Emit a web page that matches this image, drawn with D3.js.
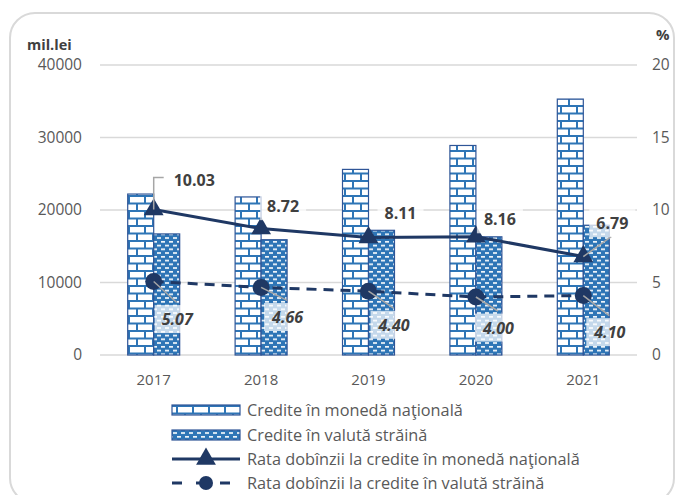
<!DOCTYPE html>
<html>
<head>
<meta charset="utf-8">
<script src="https://cdn.jsdelivr.net/npm/d3@7"></script>
<style>
  body { margin: 0; background: #fff; }
  svg { font-family: "Open Sans", sans-serif; }
</style>
</head>
<body>
<script>
// chart data
const years = ['2017', '2018', '2019', '2020', '2021'];
const creditNational = [22200, 21800, 25600, 28900, 35300];
const creditForeign = [16700, 15900, 17200, 16300, 17900];
const rateNational = [10.03, 8.72, 8.11, 8.16, 6.79];
const rateForeign = [5.07, 4.66, 4.40, 4.00, 4.10];
const leftTicks = [0, 10000, 20000, 30000, 40000];
const rightTicks = [0, 5, 10, 15, 20];
const legendLabels = [
  'Credite în monedă naţională',
  'Credite în valută străină',
  'Rata dobînzii la credite în monedă naţională',
  'Rata dobînzii la credite în valută străină'
];

// label offsets (layout only)
const natLabelOff = [[20, -29], [6, -22], [16, -24], [8, -17], [13, -33]];
const forLabelOff = [[8, 38], [11, 30], [10, 34], [7, 31], [11, 37]];

const width = 678, height = 495;
const blue = '#2e75b6', navy = '#1f3864', grid = '#d9d9d9', txt = '#595959';

const svg = d3.select('body').append('svg')
  .attr('width', width)
  .attr('height', height);

// patterns
const defs = svg.append('defs');
const brick = defs.append('pattern')
  .attr('id', 'brick')
  .attr('patternUnits', 'userSpaceOnUse')
  .attr('width', 16).attr('height', 15);
brick.append('rect').attr('width', 16).attr('height', 15).attr('fill', '#fff');
brick.append('path')
  .attr('d', 'M0,1 H16 M0,8.5 H16 M1,1 V8.5 M9,8.5 V15')
  .attr('stroke', blue).attr('stroke-width', 2).attr('fill', 'none');

const dots = defs.append('pattern')
  .attr('id', 'dots')
  .attr('patternUnits', 'userSpaceOnUse')
  .attr('width', 8).attr('height', 7.5);
dots.append('rect').attr('width', 8).attr('height', 7.5).attr('fill', blue);
dots.append('rect').attr('x', 1).attr('y', 1).attr('width', 4).attr('height', 1.6).attr('fill', '#fff');
dots.append('rect').attr('x', 5).attr('y', 4.75).attr('width', 4).attr('height', 1.6).attr('fill', '#fff');
dots.append('rect').attr('x', -3).attr('y', 4.75).attr('width', 4).attr('height', 1.6).attr('fill', '#fff');

// outer border
svg.append('rect')
  .attr('x', 10).attr('y', 13)
  .attr('width', 664).attr('height', 490)
  .attr('rx', 25)
  .attr('fill', 'none')
  .attr('stroke', grid).attr('stroke-width', 2);

// scales
const x = d3.scaleBand().domain(years).range([100, 637])
  .paddingInner(0.516).paddingOuter(0.258);
const xs = d3.scaleBand().domain([0, 1]).range([0, x.bandwidth()]);
const yL = d3.scaleLinear().domain([0, 40000]).range([355, 65]);
const yR = d3.scaleLinear().domain([0, 20]).range([355, 65]);
const cx = d => x(d) + x.bandwidth() / 2;

// gridlines
svg.append('g').selectAll('line')
  .data(leftTicks)
  .enter().append('line')
  .attr('x1', 100).attr('x2', 637)
  .attr('y1', d => yL(d)).attr('y2', d => yL(d))
  .attr('stroke', grid).attr('stroke-width', 1.5);

// axis labels
svg.append('g').selectAll('text')
  .data(leftTicks)
  .enter().append('text')
  .attr('x', 82).attr('y', d => yL(d))
  .attr('dy', '0.35em')
  .attr('text-anchor', 'end')
  .attr('font-size', 15.5).attr('fill', txt)
  .text(d => d);

svg.append('g').selectAll('text')
  .data(rightTicks)
  .enter().append('text')
  .attr('x', 652).attr('y', d => yR(d))
  .attr('dy', '0.35em')
  .attr('font-size', 15.5).attr('fill', txt)
  .text(d => d);

svg.append('g').selectAll('text')
  .data(years)
  .enter().append('text')
  .attr('x', d => cx(d)).attr('y', 380)
  .attr('dy', '0.35em')
  .attr('text-anchor', 'middle')
  .attr('font-size', 15).attr('fill', txt)
  .text(d => d);

svg.append('text')
  .attr('x', 27).attr('y', 46).attr('dy', '0.3em')
  .attr('font-size', 14.5).attr('font-weight', 'bold').attr('fill', '#404040')
  .text('mil.lei');
svg.append('text')
  .attr('x', 656).attr('y', 35).attr('dy', '0.35em')
  .attr('font-size', 15).attr('font-weight', 'bold').attr('fill', '#404040')
  .text('%');

// bars
const bars = svg.append('g');
bars.selectAll('rect.nat')
  .data(creditNational)
  .enter().append('rect')
  .attr('class', 'nat')
  .attr('x', (d, i) => x(years[i]) + xs(0))
  .attr('y', d => yL(d))
  .attr('width', xs.bandwidth())
  .attr('height', d => yL(0) - yL(d))
  .attr('fill', 'url(#brick)')
  .attr('stroke', '#2f5597').attr('stroke-width', 1.2);

bars.selectAll('rect.for')
  .data(creditForeign)
  .enter().append('rect')
  .attr('class', 'for')
  .attr('x', (d, i) => x(years[i]) + xs(1))
  .attr('y', d => yL(d))
  .attr('width', xs.bandwidth())
  .attr('height', d => yL(0) - yL(d))
  .attr('fill', 'url(#dots)')
  .attr('stroke', '#2f5597').attr('stroke-width', 1.2);

// lines
const line = d3.line()
  .x((d, i) => cx(years[i]))
  .y(d => yR(d));

svg.append('path')
  .datum(rateNational)
  .attr('d', line)
  .attr('fill', 'none')
  .attr('stroke', navy).attr('stroke-width', 3);

svg.append('path')
  .datum(rateForeign)
  .attr('d', line)
  .attr('fill', 'none')
  .attr('stroke', navy).attr('stroke-width', 3)
  .attr('stroke-dasharray', '10,7');

const tri = d3.symbol().type(d3.symbolTriangle).size(170);

svg.append('g').selectAll('path')
  .data(rateNational)
  .enter().append('path')
  .attr('d', tri)
  .attr('transform', (d, i) => `translate(${cx(years[i])},${yR(d)})`)
  .attr('fill', navy);

svg.append('g').selectAll('circle')
  .data(rateForeign)
  .enter().append('circle')
  .attr('cx', (d, i) => cx(years[i]))
  .attr('cy', d => yR(d))
  .attr('r', 8.5)
  .attr('fill', navy);

// data labels
function drawLabels(values, offs, italic, leader) {
  const g = svg.append('g');
  values.forEach((v, i) => {
    const mx = cx(years[i]), my = yR(v);
    const lx = mx + offs[i][0], ly = my + offs[i][1];
    const box = g.append('rect');
    const t = g.append('text')
      .attr('x', lx).attr('y', ly).attr('dy', '0.35em')
      .attr('font-size', 16).attr('font-weight', 'bold')
      .attr('font-style', italic ? 'italic' : 'normal')
      .attr('fill', '#404040')
      .text(v.toFixed(2));
    const bb = t.node().getBBox();
    box.attr('x', bb.x - 7).attr('y', bb.y - 3)
      .attr('width', bb.width + 14).attr('height', bb.height + 6)
      .attr('fill', '#fff').attr('fill-opacity', 0.72);
    const pts = leader(i, mx, my, lx, ly);
    if (pts) {
      g.insert('path', 'text')
        .attr('d', d3.line()(pts))
        .attr('fill', 'none')
        .attr('stroke', '#a6a6a6').attr('stroke-width', 1.5);
    }
  });
}

drawLabels(rateNational, natLabelOff, false, (i, mx, my, lx, ly) => {
  if (i === 0) return [[mx, my], [mx, ly - 3], [mx + 10, ly - 3]];
  if (i === 4) return [[mx, my], [lx + 15, ly + 13]];
  return null;
});
drawLabels(rateForeign, forLabelOff, true, (i, mx, my, lx, ly) =>
  [[mx, my], [lx + 15, ly - 17]]);

// legend
const legendY = [410, 435, 459, 483];
const lg = svg.append('g');
lg.append('rect')
  .attr('x', 172).attr('y', legendY[0] - 5).attr('width', 68).attr('height', 10)
  .attr('fill', 'url(#brick)').attr('stroke', '#2f5597').attr('stroke-width', 1.2);
lg.append('rect')
  .attr('x', 172).attr('y', legendY[1] - 5).attr('width', 68).attr('height', 10)
  .attr('fill', 'url(#dots)').attr('stroke', '#2f5597').attr('stroke-width', 1.2);
lg.append('line')
  .attr('x1', 172).attr('x2', 240).attr('y1', legendY[2]).attr('y2', legendY[2])
  .attr('stroke', navy).attr('stroke-width', 3);
lg.append('path')
  .attr('d', tri)
  .attr('transform', `translate(206,${legendY[2]})`)
  .attr('fill', navy);
lg.append('line')
  .attr('x1', 172).attr('x2', 240).attr('y1', legendY[3]).attr('y2', legendY[3])
  .attr('stroke', navy).attr('stroke-width', 3)
  .attr('stroke-dasharray', '10,14');
lg.append('circle')
  .attr('cx', 206).attr('cy', legendY[3]).attr('r', 7)
  .attr('fill', navy);

lg.selectAll('text')
  .data(legendLabels)
  .enter().append('text')
  .attr('x', 247).attr('y', (d, i) => legendY[i])
  .attr('dy', '0.35em')
  .attr('font-size', 16.3).attr('fill', txt)
  .text(d => d);
</script>
</body>
</html>
